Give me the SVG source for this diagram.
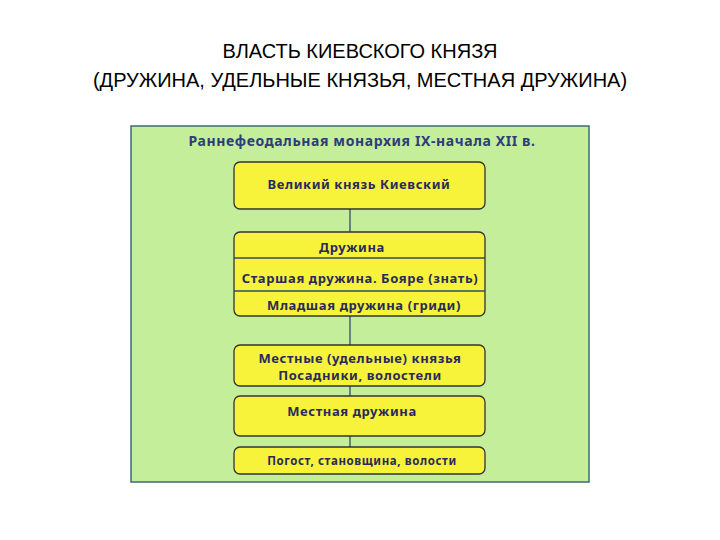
<svg xmlns="http://www.w3.org/2000/svg" width="720" height="540" viewBox="0 0 720 540">
<style>
.h{font-family:"Liberation Sans","Noto Sans",sans-serif;font-size:20px;fill:#000;text-anchor:middle}
.b{fill:#f7f33a;stroke:#333;stroke-width:1.3}
.t{font-family:"Noto Sans","DejaVu Sans",sans-serif;font-weight:bold;font-size:13px;letter-spacing:0.6px;fill:#2a2a5a;text-anchor:middle}
.c{stroke:#2f4f5f;stroke-width:1.3;fill:none}
</style>
<rect width="720" height="540" fill="#fff"/>
<text class="h" x="360" y="58">ВЛАСТЬ КИЕВСКОГО КНЯЗЯ</text>
<text class="h" x="360" y="87">(ДРУЖИНА, УДЕЛЬНЫЕ КНЯЗЬЯ, МЕСТНАЯ ДРУЖИНА)</text>
<rect x="131" y="126" width="458" height="356" fill="#c4ee9a" stroke="#3d6b7a" stroke-width="1.5"/>
<text class="t" x="362" y="146" style="font-size:14px;fill:#2e3c7a">Раннефеодальная  монархия  IX-начала  XII  в.</text>
<g id="connectors">
<line class="c" x1="350" y1="209" x2="350" y2="232"/>
<line class="c" x1="350" y1="316" x2="350" y2="345"/>
<line class="c" x1="350" y1="386" x2="350" y2="396"/>
<line class="c" x1="350" y1="436" x2="350" y2="447"/>
</g>
<g id="n1"><rect class="b" x="234" y="162" width="251" height="47" rx="6"/><text class="t" x="359" y="189">Великий  князь  Киевский</text></g>
<g id="n2"><rect class="b" x="234" y="232" width="251" height="84" rx="6"/>
<line class="c" x1="234" y1="258" x2="485" y2="258" stroke="#333"/>
<line class="c" x1="234" y1="291" x2="485" y2="291" stroke="#333"/>
<text class="t" x="352" y="252">Дружина</text>
<text class="t" x="360" y="283">Старшая  дружина.  Бояре  (знать)</text>
<text class="t" x="364" y="310">Младшая  дружина  (гриди)</text></g>
<g id="n3"><rect class="b" x="234" y="345" width="251" height="41" rx="6"/><text class="t" x="360" y="363">Местные  (удельные)  князья</text><text class="t" x="360" y="380">Посадники,  волостели</text></g>
<g id="n4"><rect class="b" x="234" y="396" width="251" height="40" rx="6"/><text class="t" x="352" y="416">Местная  дружина</text></g>
<g id="n5"><rect class="b" x="234" y="447" width="251" height="27" rx="6"/><text class="t" x="362" y="465" style="font-size:11.5px">Погост,  становщина,  волости</text></g>
</svg>
